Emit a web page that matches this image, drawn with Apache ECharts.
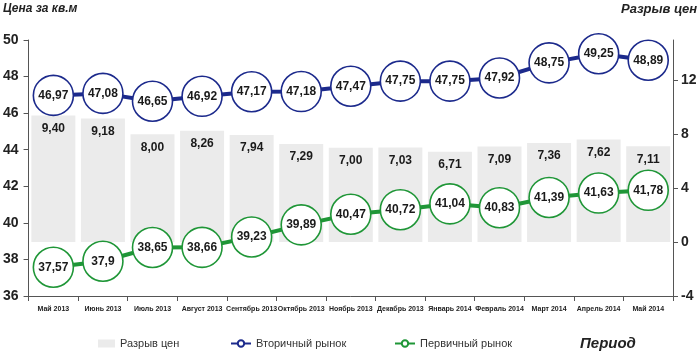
<!DOCTYPE html>
<html>
<head>
<meta charset="utf-8">
<script src="https://cdn.jsdelivr.net/npm/echarts@6/dist/echarts.min.js"></script>
<style>
html, body { margin: 0; padding: 0; background: #fff; }
#main { width: 700px; height: 351px; }
</style>
</head>
<body>
<div id="main"></div>
<script>
var months = ['Май 2013', 'Июнь 2013', 'Июль 2013', 'Август 2013', 'Сентябрь 2013', 'Октябрь 2013',
    'Ноябрь 2013', 'Декабрь 2013', 'Январь 2014', 'Февраль 2014', 'Март 2014', 'Апрель 2014', 'Май 2014'];
var secondary = [46.97, 47.08, 46.65, 46.92, 47.17, 47.18, 47.47, 47.75, 47.75, 47.92, 48.75, 49.25, 48.89];
var primary = [37.57, 37.9, 38.65, 38.66, 39.23, 39.89, 40.47, 40.72, 41.04, 40.83, 41.39, 41.63, 41.78];
var gap = [9.40, 9.18, 8.00, 8.26, 7.94, 7.29, 7.00, 7.03, 6.71, 7.09, 7.36, 7.62, 7.11];
var rightTicks = [-4, 0, 4, 8, 12];

var blue = '#1c2a8c';
var green = '#1f9637';
var fontMain = '"Liberation Sans", Arial, sans-serif';

var comma = function (v) { return String(v).replace('.', ','); };

var chart = echarts.init(document.getElementById('main'), null, { renderer: 'canvas' });

var lineSeries = function (name, data, color) {
    return {
        name: name,
        type: 'line',
        yAxisIndex: 0,
        data: data,
        z: 5,
        symbol: 'circle',
        symbolSize: 40,
        lineStyle: { color: color, width: 4 },
        itemStyle: { color: '#fff', borderColor: color, borderWidth: 1.6 },
        label: {
            show: true,
            position: 'inside',
            fontFamily: fontMain,
            fontWeight: 'bold',
            fontSize: 12,
            color: '#1a1a1a',
            formatter: function (p) { return comma(p.value); }
        },
        emphasis: { disabled: true }
    };
};

var option = {
    animation: false,
    grid: { left: 27, right: 27, top: 40, bottom: 55 },
    graphic: [
        { type: 'text', left: 3, top: 3, style: { text: 'Цена за кв.м', font: 'italic bold 12px ' + fontMain, fill: '#222' } },
        { type: 'text', right: 3, top: 3, style: { text: 'Разрыв цен', font: 'italic bold 13px ' + fontMain, fill: '#222' } },
        { type: 'text', left: 580, top: 336, style: { text: 'Период', font: 'italic bold 15px ' + fontMain, fill: '#222' } }
    ],
    legend: [
        {
            left: 96, top: 336, itemWidth: 17, itemHeight: 8, itemGap: 4, padding: 2,
            data: [{ name: 'Разрыв цен', icon: 'rect' }],
            textStyle: { fontFamily: fontMain, fontSize: 11, color: '#333' }
        },
        {
            left: 228, top: 336, itemWidth: 20, itemHeight: 8, padding: 2,
            data: ['Вторичный рынок'],
            textStyle: { fontFamily: fontMain, fontSize: 11, color: '#333' }
        },
        {
            left: 392, top: 336, itemWidth: 20, itemHeight: 8, padding: 2,
            data: ['Первичный рынок'],
            textStyle: { fontFamily: fontMain, fontSize: 11, color: '#333' }
        }
    ],
    xAxis: {
        type: 'category',
        data: months,
        boundaryGap: true,
        axisLine: { onZero: false, lineStyle: { color: '#555', width: 1 } },
        axisTick: { show: true, length: 5, lineStyle: { color: '#555' } },
        axisLabel: {
            interval: 0,
            margin: 10,
            fontFamily: fontMain,
            fontWeight: 'bold',
            fontSize: 7,
            color: '#222'
        }
    },
    yAxis: [
        {
            type: 'value',
            min: 36,
            max: 50,
            interval: 2,
            splitLine: { show: false },
            axisLine: { show: true, lineStyle: { color: '#555' } },
            axisTick: { show: true, length: 5, lineStyle: { color: '#555' } },
            axisLabel: { margin: 10, fontFamily: fontMain, fontWeight: 'bold', fontSize: 14, color: '#222' }
        },
        {
            type: 'value',
            min: -4,
            max: 15,
            interval: 4,
            position: 'right',
            splitLine: { show: false },
            axisLine: { show: true, lineStyle: { color: '#555' } },
            axisTick: { show: true, length: 5, lineStyle: { color: '#555' }, customValues: rightTicks },
            axisLabel: { margin: 8, fontFamily: fontMain, fontWeight: 'bold', fontSize: 14, color: '#222', customValues: rightTicks }
        }
    ],
    series: [
        {
            name: 'Разрыв цен',
            type: 'bar',
            yAxisIndex: 1,
            data: gap,
            barWidth: 44,
            z: 1,
            itemStyle: { color: '#ebebeb' },
            label: {
                show: true,
                position: 'insideTop',
                distance: 7,
                fontFamily: fontMain,
                fontWeight: 'bold',
                fontSize: 12,
                color: '#1a1a1a',
                formatter: function (p) { return p.value.toFixed(2).replace('.', ','); }
            },
            emphasis: { disabled: true }
        },
        lineSeries('Вторичный рынок', secondary, blue),
        lineSeries('Первичный рынок', primary, green)
    ]
};

chart.setOption(option);
window.addEventListener('resize', chart.resize);
</script>
</body>
</html>
